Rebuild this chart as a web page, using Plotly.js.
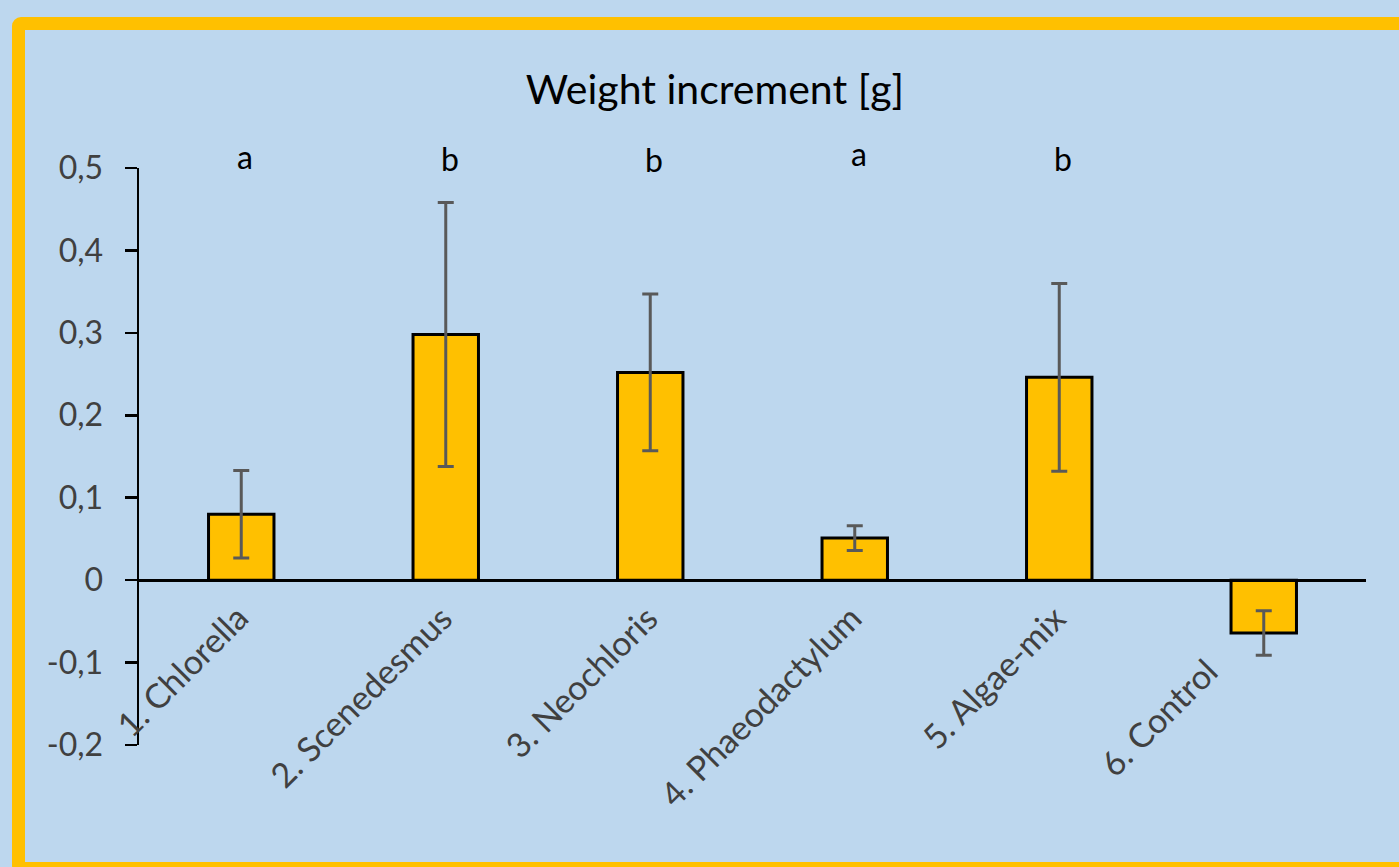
<!DOCTYPE html>
<html>
<head>
<meta charset="utf-8">
<script src="https://cdn.plot.ly/plotly-3.0.1.min.js"></script>
<style>
  html, body { margin: 0; padding: 0; background: #BDD7EE; overflow: hidden; }
  #chart { width: 1399px; height: 867px; position: absolute; left: 0; top: 0; }
  #frame { position: absolute; left: 12px; top: 17px; width: 1430px; height: 858px;
           border: 13px solid #FFC000; border-radius: 9px; box-sizing: border-box; pointer-events: none; }
</style>
</head>
<body>
<div id="chart"></div>
<div id="frame"></div>
<script>
const categories = ["1. Chlorella", "2. Scenedesmus", "3. Neochloris", "4. Phaeodactylum", "5. Algae-mix", "6. Control"];
const weightIncrement = [0.080, 0.298, 0.252, 0.051, 0.246, -0.064];
const errorValues = [0.053, 0.160, 0.095, 0.015, 0.114, 0.027];
const sigLetters = ["a", "b", "b", "a", "b", ""];
const letterLevels = [0.514, 0.511, 0.510, 0.518, 0.512, 0.512];
const yTickVals = [0.5, 0.4, 0.3, 0.2, 0.1, 0, -0.1, -0.2];
const yTickText = ["0,5", "0,4", "0,3", "0,2", "0,1", "0", "-0,1", "-0,2"];
const chartTitle = "Weight increment [g]";

const FONT = "Lato, 'Open Sans', sans-serif";
const yMin = -0.2, yMax = 0.5;
const W = 1399, H = 867;
const M = { l: 139, r: 33, t: 168, b: 122, pad: 0 };
const plotH = H - M.t - M.b;
const toPaperY = v => (v - yMin) / (yMax - yMin);
const depthPx = v => Math.max(0, -v) / (yMax - yMin) * plotH;

const trace = {
  type: "bar",
  x: categories,
  y: weightIncrement,
  width: 0.32,
  marker: { color: "#FFC000", line: { color: "#000000", width: 3 } },
  error_y: { type: "data", array: errorValues, visible: true, color: "#595959", thickness: 3, width: 8 },
  hoverinfo: "x+y"
};

const letterAnnotations = categories.map((c, i) => ({
  x: c, y: toPaperY(letterLevels[i]), xref: "x", yref: "paper",
  text: sigLetters[i], showarrow: false, yanchor: "middle", xshift: 4,
  font: { family: FONT, size: 32, color: "#000000" }
})).filter(a => a.text !== "");

const labelAnnotations = categories.map((c, i) => ({
  x: c, y: Math.min(0, weightIncrement[i]), xref: "x", yref: "y",
  text: c, showarrow: false, textangle: -45,
  xanchor: "right", yanchor: "top",
  xshift: 17 - depthPx(weightIncrement[i]), yshift: -14,
  font: { family: FONT, size: 34, color: "#404040" }
}));

const layout = {
  width: W, height: H,
  paper_bgcolor: "#BDD7EE", plot_bgcolor: "rgba(0,0,0,0)",
  margin: M,
  showlegend: false,
  title: {
    text: chartTitle, x: 0.511, xanchor: "center", xref: "container",
    y: 1 - 90 / H, yanchor: "middle", yref: "container",
    font: { family: FONT, size: 41, color: "#000000" }
  },
  xaxis: {
    type: "category", range: [-0.5, 5.5],
    anchor: "free", position: toPaperY(0),
    showline: true, linecolor: "#000000", linewidth: 2.5,
    ticks: "", showticklabels: false, showgrid: false, zeroline: false
  },
  yaxis: {
    range: [yMin, yMax], tickmode: "array", tickvals: yTickVals, ticktext: yTickText,
    showline: true, linecolor: "#000000", linewidth: 2.5,
    ticks: "outside", ticklen: 12, tickwidth: 2.5, tickcolor: "#000000",
    ticklabelstandoff: 15,
    showgrid: false, zeroline: false,
    tickfont: { family: FONT, size: 32, color: "#404040" }
  },
  annotations: letterAnnotations.concat(labelAnnotations)
};

Plotly.newPlot("chart", [trace], layout, { displayModeBar: false, staticPlot: true });
</script>
</body>
</html>
